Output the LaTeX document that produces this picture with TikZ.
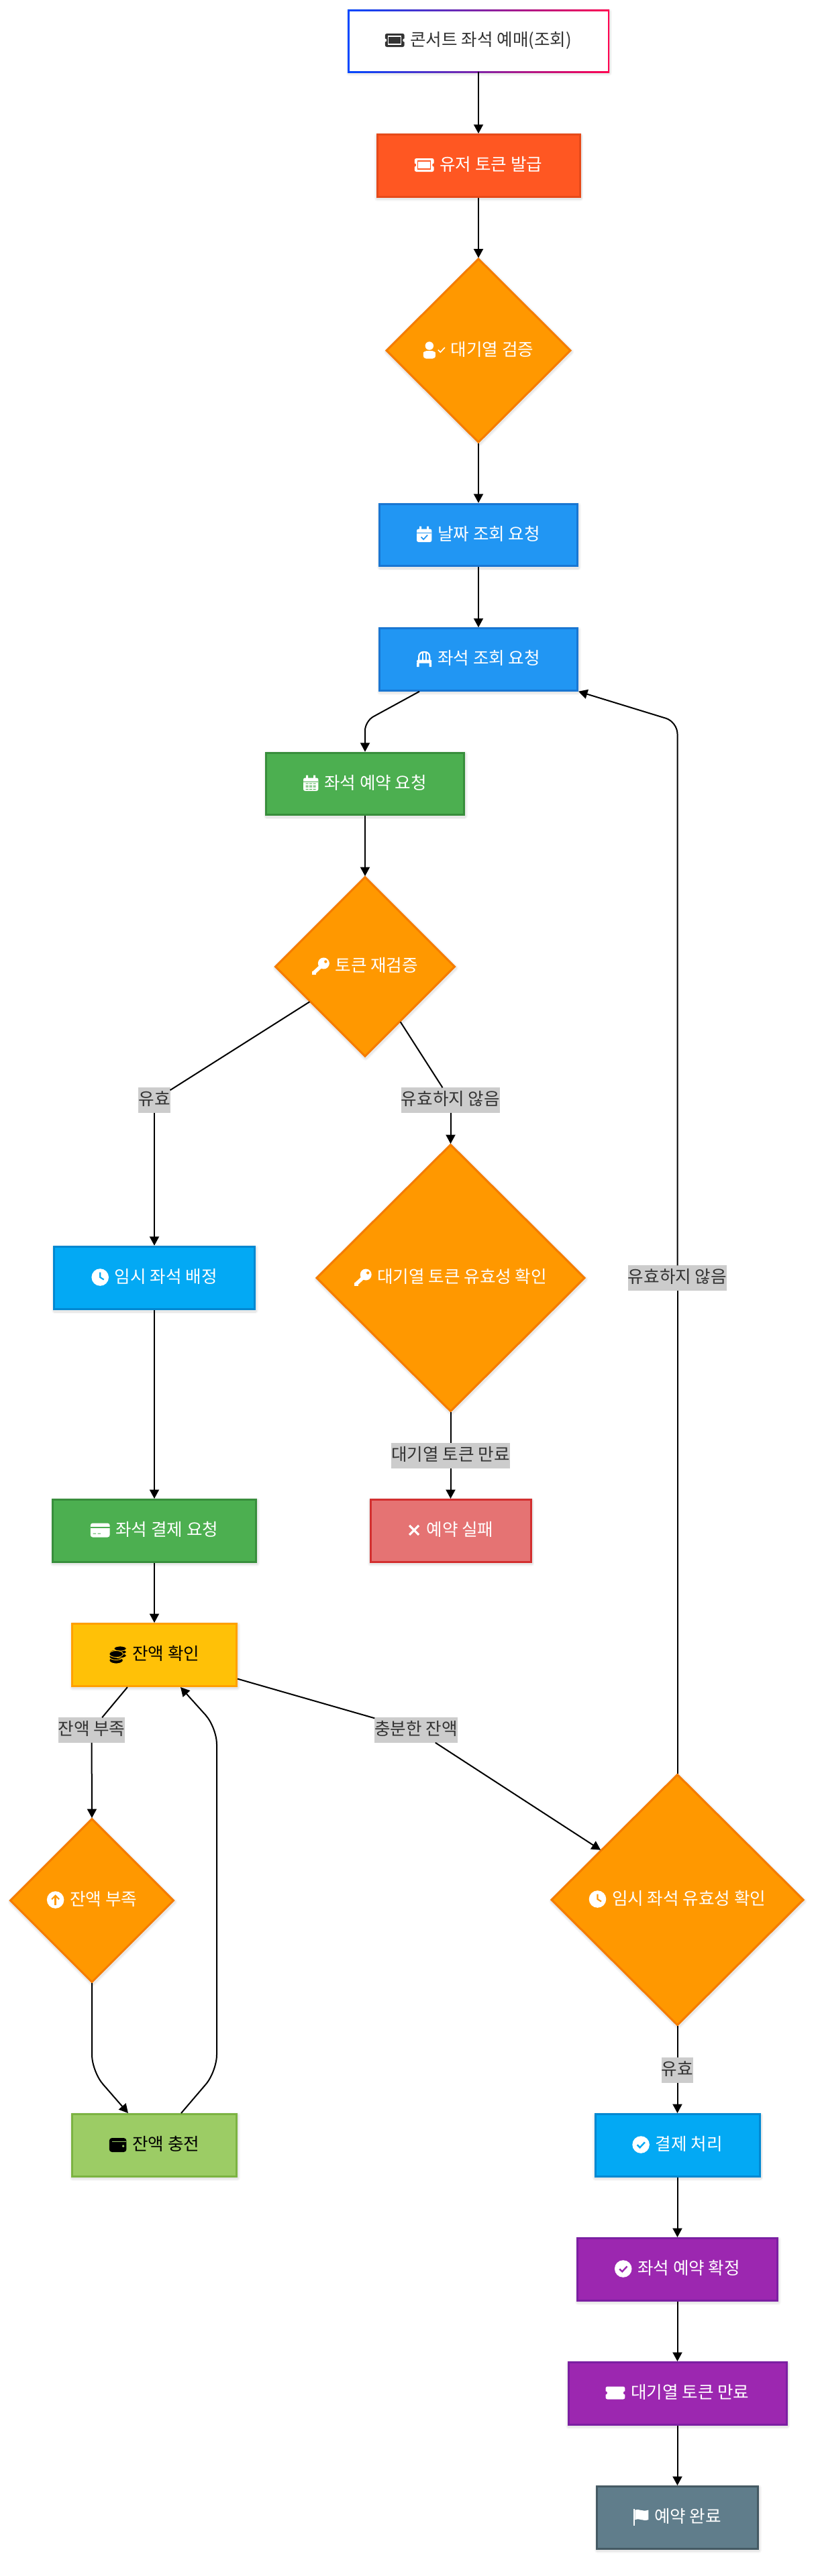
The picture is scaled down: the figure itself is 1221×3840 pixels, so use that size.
\documentclass[tikz,border=0pt]{standalone}
\usepackage{fontspec}
\setmainfont{Noto Sans CJK KR}
\usetikzlibrary{shapes.geometric,arrows.meta,calc}
\definecolor{ic}{HTML}{FFFFFF}
\definecolor{ib}{HTML}{000000}
\newlength\tw
\font\measfont="Noto Sans CJK KR" at 19.2pt
\newcommand{\lblfont}{\fontsize{19.2pt}{24pt}\selectfont}
\newcommand{\icols}[2]{\colorlet{ic}{#1}\colorlet{ib}{#2}}
% #1 name, #2 style, #3 x, #4 y, #5 w, #6 h, #7 icon, #8 icon width (px), #9 text
\newcommand{\flow}[9]{%
  \settowidth\tw{\measfont #9}%
  \node[#2,minimum width=#5*0.75pt,minimum height=#6*0.75pt] (#1) at (#3,#4) {\hspace*{\dimexpr #8\dimexpr 0.75pt\relax+6.6pt\relax}#9};
  \pic at ($(#1.center)+(-0.5*\tw-3.3pt,0.75pt)$) {#7};
}
\tikzset{
  softshadow/.style={
    preaction={draw=black,draw opacity=.035,line width=9*0.75pt,line join=round,transform canvas={xshift=.6pt,yshift=-1.5pt}},
    preaction={draw=black,draw opacity=.05,line width=5.5*0.75pt,line join=round,transform canvas={xshift=.6pt,yshift=-1.5pt}}},
  boxbase/.style={rectangle,draw,line width=3*0.75pt,inner sep=0pt,outer sep=1.5*0.75pt,font=\lblfont,text=white,text height=14pt,text depth=2.2pt,softshadow},
  tokenbox/.style={boxbase,fill=tokf,draw=toks},
  bluebox/.style={boxbase,fill=bluf,draw=blus},
  greenbox/.style={boxbase,fill=grnf,draw=grns},
  skybox/.style={boxbase,fill=skyf,draw=skys},
  failbox/.style={boxbase,fill=redf,draw=reds},
  amberbox/.style={boxbase,fill=ambf,draw=ambs,text=black},
  limebox/.style={boxbase,fill=limf,draw=lims,text=black},
  purplebox/.style={boxbase,fill=purf,draw=purs},
  slatebox/.style={boxbase,fill=slaf,draw=slas},
  startbox/.style={rectangle,inner sep=0pt,outer sep=1.5*0.75pt,fill=white,font=\lblfont,text=txt,text height=14pt,text depth=2.2pt},
  decision/.style={diamond,aspect=1,draw=dias,fill=diaf,line width=3*0.75pt,inner sep=0pt,outer sep=1*0.75pt,font=\lblfont,text=white,text height=14pt,text depth=2.2pt,softshadow},
  edgelabel/.style={rectangle,fill=lab,text=txt,font=\lblfont,inner xsep=0pt,inner ysep=0pt,outer sep=0pt,text height=14pt,text depth=2.2pt,minimum height=37.5*0.75pt},
  conn/.style={draw=black,line width=2*0.75pt},
  arrowconn/.style={conn,-{Triangle[length=10.1pt,width=10.5pt]}},
  ticket/.pic={
    \fill[ic,rounded corners=2] (-14.4,-10) rectangle (14.4,10);
    \fill[ib] (-14.6,0) circle (2.6) (14.6,0) circle (2.6);
    \draw[ib,line width=1.1pt] (-9.5,-6) rectangle (9.5,6);},
  ticketplain/.pic={
    \fill[ic,rounded corners=2] (-14.4,-9.5) rectangle (14.4,9.5);
    \fill[ib] (-14.6,0) circle (2.6) (14.6,0) circle (2.6);},
  usercheck/.pic={
    \fill[ic] (-7,-6) circle (6.2);
    \fill[ic,rounded corners=3] (-16,13) -- (-16,8) .. controls (-16,3) and (-11,1.5) .. (-7,1.5) .. controls (-3,1.5) and (2,3) .. (2,8) -- (2,13) -- cycle;
    \draw[ic,line width=1.2pt] (6,0) -- (9.5,3.5) -- (16,-3.5);},
  calcheck/.pic={
    \fill[ic,rounded corners=2] (-11.2,-8) rectangle (11.2,11.5);
    \fill[ic] (-7,-12) rectangle (-4,-7) (4,-12) rectangle (7,-7);
    \fill[ib] (-11.2,-2.5) rectangle (11.2,-1.3);
    \draw[ib,line width=1.3pt] (-4.5,4) -- (-1,7.5) -- (5,1);},
  calgrid/.pic={
    \fill[ic,rounded corners=2] (-11.2,-8) rectangle (11.2,11.5);
    \fill[ic] (-7,-12) rectangle (-4,-7) (4,-12) rectangle (7,-7);
    \fill[ib] (-11.2,-2.5) rectangle (11.2,-1.3);
    \foreach \gx in {-7.5,-2,3.5}{\foreach \gy in {1,6}{\fill[ib] (\gx,\gy) rectangle ++(4,-.9) (\gx,\gy+2.6) rectangle ++(4,.9);}}},
  chair/.pic={
    \draw[ic,line width=1.7pt,rounded corners=5] (-8,2) -- (-8,-10) -- (8,-10) -- (8,2);
    \draw[ic,line width=1.5pt] (-2.7,-9) -- (-2.7,2) (2.7,-9) -- (2.7,2);
    \fill[ic,rounded corners=1] (-11,1.5) rectangle (11,6.5);
    \fill[ic] (-11,6) rectangle (-7.5,12) (7.5,6) rectangle (11,12);},
  keyicon/.pic={
    \fill[ic] (4.5,-4) circle (8.5);
    \fill[ib] (7.5,-6.5) circle (2.2);
    \draw[ic,line width=4pt] (2,-1) -- (-10,10);
    \fill[ic] (-12.8,8) rectangle (-7,12.8);},
  clockicon/.pic={
    \fill[ic] (0,0) circle (12.8);
    \draw[ib,line width=1.6pt] (0,-7.5) -- (0,0) -- (5.5,3.5);},
  card/.pic={
    \fill[ic,rounded corners=2.5] (-14.4,-10.5) rectangle (14.4,10.5);
    \fill[ib] (-14.4,-5.5) rectangle (14.4,-2.8);
    \fill[ib] (-10.5,4.5) rectangle (-6,5.7) (-3.5,4.5) rectangle (1,5.7);},
  coins/.pic={
    \foreach \cy in {9,3.5,-2}{\draw[fill=ic,draw=ib,line width=.7pt] (-2.5,\cy) ellipse (10.3 and 5);}
    \draw[fill=ic,draw=ib,line width=.7pt] (3.5,2) ellipse (9.2 and 3.6);
    \draw[fill=ic,draw=ib,line width=.7pt] (3.5,-3.5) ellipse (9.2 and 3.6);
    \draw[fill=ic,draw=ib,line width=.7pt] (3.5,-8.5) ellipse (9.2 and 3.6);
    \draw[fill=ic,draw=ib,line width=.7pt] (-2.5,-.5) ellipse (10.3 and 5);},
  arrowcircle/.pic={
    \fill[ic] (0,0) circle (12.8);
    \draw[ib,line width=1.7pt] (0,7.5) -- (0,-6);
    \draw[ib,line width=1.7pt] (-5.5,-.8) -- (0,-6.3) -- (5.5,-.8);},
  wallet/.pic={
    \fill[ic,rounded corners=3] (-12.8,-10) rectangle (12.8,11);
    \fill[ib] (-9,-5.5) rectangle (12.8,-4.5);
    \fill[ib] (8,2) circle (1.9);},
  checkcircle/.pic={
    \fill[ic] (0,0) circle (12.8);
    \draw[ib,line width=1.8pt] (-5.5,.3) -- (-1.5,4.2) -- (5.8,-3.6);},
  flagicon/.pic={
    \fill[ic] (-11.2,-12.5) rectangle (-8.8,13);
    \fill[ic] (-8.8,-10.5) .. controls (-3,-13) and (2,-7) .. (11.2,-10.5) -- (11.2,4) .. controls (3,7) and (-3,1) .. (-8.8,4) -- cycle;},
  xicon/.pic={
    \draw[ic,line width=2.4pt] (-7,-7) -- (7,7) (-7,7) -- (7,-7);},
}
\definecolor{tokf}{HTML}{FF5722}\definecolor{toks}{HTML}{E64A19}
\definecolor{bluf}{HTML}{2196F3}\definecolor{blus}{HTML}{1976D2}
\definecolor{grnf}{HTML}{4CAF50}\definecolor{grns}{HTML}{388E3C}
\definecolor{skyf}{HTML}{03A9F4}\definecolor{skys}{HTML}{0288D1}
\definecolor{redf}{HTML}{E57373}\definecolor{reds}{HTML}{D32F2F}
\definecolor{ambf}{HTML}{FFC107}\definecolor{ambs}{HTML}{FFA000}
\definecolor{limf}{HTML}{9CCC65}\definecolor{lims}{HTML}{7CB342}
\definecolor{purf}{HTML}{9C27B0}\definecolor{purs}{HTML}{7B1FA2}
\definecolor{slaf}{HTML}{607D8B}\definecolor{slas}{HTML}{455A64}
\definecolor{diaf}{HTML}{FF9800}\definecolor{dias}{HTML}{F57C00}
\definecolor{txt}{HTML}{333333}\definecolor{lab}{HTML}{CCCCCC}
\definecolor{gradl}{HTML}{0047FF}\definecolor{gradr}{HTML}{FF0050}
\begin{document}
\begin{tikzpicture}[x=0.75pt,y=-0.75pt]
\useasboundingbox (0,0) rectangle (1221,3840);
\fill[white] (0,0) rectangle (1221,3840);
% start box: gradient border
\path[softshadow] (519.5,15.5) rectangle (906.5,106.5);
\shade[left color=gradl,right color=gradr] (518,14) rectangle (908,108);
\icols{txt}{white}
\flow{start}{startbox}{713}{61}{385}{89}{ticket}{28.8}{콘서트 좌석 예매(조회)}
\icols{white}{tokf}
\flow{token}{tokenbox}{713}{247}{302}{93}{ticket}{28.8}{유저 토큰 발급}
\icols{white}{diaf}
\flow{d1}{decision}{713}{522.5}{275}{274}{usercheck}{32}{대기열 검증}
\icols{white}{bluf}
\flow{date}{bluebox}{713}{797.5}{295}{92.5}{calcheck}{22.4}{날짜 조회 요청}
\flow{seat}{bluebox}{713}{983}{295}{92.5}{chair}{22.4}{좌석 조회 요청}
\icols{white}{grnf}
\flow{reserve}{greenbox}{544}{1168.5}{295}{92.5}{calgrid}{22.4}{좌석 예약 요청}
\icols{white}{diaf}
\flow{d2}{decision}{544}{1441}{268}{268}{keyicon}{25.6}{토큰 재검증}
\icols{white}{skyf}
\flow{temp}{skybox}{230}{1905}{299}{93.5}{clockicon}{25.6}{임시 좌석 배정}
\icols{white}{diaf}
\flow{d3}{decision}{671.5}{1905}{400}{398}{keyicon}{25.6}{대기열 토큰 유효성 확인}
\icols{white}{grnf}
\flow{payreq}{greenbox}{230}{2282}{303}{93}{card}{28.8}{좌석 결제 요청}
\icols{white}{redf}
\flow{fail}{failbox}{671.5}{2282}{239}{93}{xicon}{19.2}{예약 실패}
\icols{black}{ambf}
\flow{balance}{amberbox}{230}{2467}{245}{93}{coins}{25.6}{잔액 확인}
\icols{white}{diaf}
\flow{d4}{decision}{137}{2833}{244}{244}{arrowcircle}{25.6}{잔액 부족}
\icols{black}{limf}
\flow{recharge}{limebox}{230}{3198}{245}{93}{wallet}{25.6}{잔액 충전}
\icols{white}{diaf}
\flow{d5}{decision}{1009.5}{2832}{376}{374}{clockicon}{25.6}{임시 좌석 유효성 확인}
\icols{white}{skyf}
\flow{pay}{skybox}{1009.5}{3198}{245}{93}{checkcircle}{25.6}{결제 처리}
\icols{white}{purf}
\flow{confirm}{purplebox}{1009.5}{3383}{298}{93}{checkcircle}{25.6}{좌석 예약 확정}
\flow{expire}{purplebox}{1009.5}{3568}{325}{93}{ticketplain}{28.8}{대기열 토큰 만료}
\icols{white}{slaf}
\flow{done}{slatebox}{1009.5}{3753}{240}{93}{flagicon}{22.4}{예약 완료}
% edge labels
\node[edgelabel] (lvalid) at (230,1640) {유효};
\node[edgelabel] (linvalid) at (671.5,1640) {유효하지 않음};
\node[edgelabel] (lexpired) at (671.5,2170) {대기열 토큰 만료};
\node[edgelabel] (lshort) at (136.5,2579) {잔액 부족};
\node[edgelabel] (lenough) at (620,2579) {충분한 잔액};
\node[edgelabel] (lretry) at (1009.5,1905) {유효하지 않음};
\node[edgelabel] (lok) at (1009.5,3086) {유효};
% connectors
\draw[arrowconn] (start.south) -- (token.north);
\draw[arrowconn] (token.south) -- (d1.north);
\draw[arrowconn] (d1.south) -- (date.north);
\draw[arrowconn] (date.south) -- (seat.north);
\draw[arrowconn,rounded corners=14*0.75pt] ($(seat.south)+(-88,0)$) -- (544,1075) -- (reserve.north);
\draw[arrowconn] (reserve.south) -- (d2.north);
\draw[conn] (d2) -- (lvalid);
\draw[arrowconn] (lvalid) -- (temp.north);
\draw[conn] (d2) -- (linvalid);
\draw[arrowconn] (linvalid) -- (d3.north);
\draw[arrowconn] (temp.south) -- (payreq.north);
\draw[conn] (d3.south) -- (lexpired);
\draw[arrowconn] (lexpired) -- (fail.north);
\draw[arrowconn] (payreq.south) -- (balance.north);
\draw[conn] (balance) -- (lshort);
\draw[arrowconn] (lshort) -- (d4.north);
\draw[arrowconn,rounded corners=25*0.75pt] (d4.south) -- (137,3088) -- ($(recharge.north)+(-39,0)$);
\draw[arrowconn,rounded corners=25*0.75pt] ($(recharge.north)+(40,0)$) -- (323,3088) -- (323,2575) -- ($(balance.south)+(39,0)$);
\draw[conn] (balance) -- (lenough);
\draw[arrowconn] (lenough) -- (d5);
\draw[conn] (d5.north) -- (lretry);
\draw[arrowconn,rounded corners=18*0.75pt] (lretry.north) -- (1009.5,1076) -- (seat.south east);
\draw[conn] (d5.south) -- (lok);
\draw[arrowconn] (lok) -- (pay.north);
\draw[arrowconn] (pay.south) -- (confirm.north);
\draw[arrowconn] (confirm.south) -- (expire.north);
\draw[arrowconn] (expire.south) -- (done.north);
\end{tikzpicture}
\end{document}
